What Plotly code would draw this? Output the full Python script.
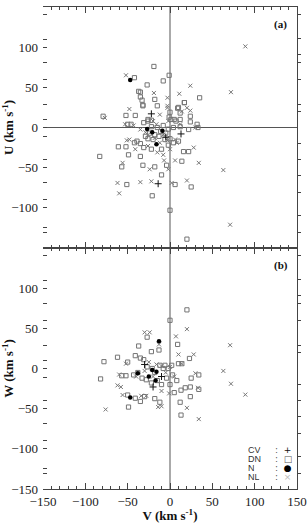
import plotly.graph_objects as go

# ---------------- data ----------------
# panel (a): U vs V
cv_v_a = [13, -14, -22, -5]
cv_u_a = [-8, -70, 17, -12]

dn_v_a = [-19, -42, -8, -1, -27, -35, -32, -18, -15, 35, 17, 10, -41, -79, -26, 1, 24, -50,
          22, 33, -61, -52, -83, -49, -35, -32, -18, -10, -4, 6, -51, 25, -21, 0, 20, 14, 22,
          16, 10, -57, -31, -22, -15, -8, -2, 4, 12, -29, -26, -20, -13, -6, 0, 4, -2, -10,
          -22, -35, -39, -18, -11, -24, -5, -31, -26, -22, -1, 5, 12, 0, 12, 24, 32, 9, 17, 7,
          -52, -46, -37, -35, -33, -32, -42]
dn_u_a = [76, 62, 58, 65, 53, 44, 28, 35, 27, 37, 31, 25, 15, 14, 8, 10, 7, 4,
          -2.5, 0, -24, -24, -36, -34, -36, -47, -49, -59, -47, -71, -71, -74, -85, -103, -139, -42, -30,
          -30, -17, -49, 6, 1, 0, 2.5, -2, 0, 1, -11, -14, -15, -11, -15, -14, -19, -22, -27,
          -27, -20, -17, -9, -5, -7, -7, -25, 10, 9, 13, 10, 10, 19, 18, 14, 4, 24, 31, 8,
          15, 4, 45, 38, 34, 27, -19]

n_v_a = [-47, -27, -21, -16, -9]
n_u_a = [59, -2, -6, -21, -4]

nl_v_a = [89, 72, 34, 63, 71, 20, 24, -52, -19, 11, -48, -12, -3, -53, -35, -48, -41, -56,
          -24, -62, -35, -22, -60, -7, 6, 28, 2, -2, -29, -18, -12, -3, 6, -8, 12, -2, -16,
          -43, -26, 0, -15, 14, 20, -3, -20, 8, -51, -26, -77, 24, -8, -3, 30]
nl_u_a = [101, 44, -44, -53, -121, -66, 52, 65, 43, 42, 23, 16, 37, 4, -2.5, -15, -27, -44,
          -52, -69, -68, -67, -82, -41, -41, -25, -69, -52, -6, -13, -19, -16, -15, -9, 4, 8, 4,
          2.5, -23, -27, -31, 20, 24.5, 24.5, 8, -19, -16, -9, 12, 21, -34, 27, 0]

# panel (b): W vs V
cv_v_b = [-20, -10, -30]
cv_w_b = [-23, -10, 5]

dn_v_b = [20, 0, -27, 9, -13, -37, -22, -62, -78, -41, -35, -31, -50, 23, -57, -52, -43, -82,
          5, 13, 18, 24, 34, 25, -50, -41, -18, -12, -49, 13, 34, 24, 12, -35, -30,
          -27, -21, -12, -6, 2, -2, -8, -33, -28, -15, -4, 3, 8, -22, -10, -38, 0, -18, 10, 14]
dn_w_b = [73, 60, 39, 30, 23, 28, 21, 14, 8.5, 16, 13, 11, 8, 12.5, -9, -9, -8, -13,
          -30, -27, -24, -23, -8, -12, -33, -37, -37.5, -42, -48, -58, -26, -35, -42, -41, -35,
          2, 0, 4, 4, 4, 0, 0, -12, -14, -15, -12, -8, -15, -18, -20, -5, -20, -5, 6, 6]

n_v_b = [-13, -47, -38, -21, -17, -16, -25]
n_w_b = [34, -36, -6, -2, -15, -4, -10]

nl_v_b = [20, -30, -24, 7, 71, 28, 10, 63, 72, 89, 20, 34, -14, -60, -62, -58, 30, 14, 33,
          -10, -1, -56, -34, -28, -10, -76, -13, -52, -25, -16, -10, 0, -30, -20, -5, 5, -40]
nl_w_b = [49, 45, 45, 40, 29, 17.5, 17.5, -3, -19, -32.5, -49, -63, -48, -7.5, -21, -23, -6, 6, -24,
          -28, -31, -33, -34, -34, -47, -51, 30, 6, 8, 5, 3, 2, -3, -10, -5, -10, -10]

x_ticks = [-150, -100, -50, 0, 50, 100, 150]
y_ticks_a = [150, 100, 50, 0, -50, -100]
y_ticks_b = [100, 50, 0, -50, -100, -150]
legend_names = ["CV", "DN", "N", "NL"]
legend_glyphs = ["+", "\u25a1", "\u25cf", "\u00d7"]

# ---------------- styles ----------------
SQ_COL = "#747474"
X_COL = "#777777"
AX_COL = "#444444"
SERIF = "Liberation Serif, Times New Roman, serif"
SANS = "Liberation Sans, Arial, sans-serif"


def add_group(fig, xs, ys, xa, ya, name, sym, col, size, lw):
    fig.add_trace(go.Scatter(
        x=xs, y=ys, mode="markers", name=name, xaxis=xa, yaxis=ya, showlegend=False,
        marker=dict(symbol=sym, size=size, color=col, line=dict(color=col, width=lw)),
    ))


fig = go.Figure()
for xa, ya, data in [
    ("x", "y", [(dn_v_a, dn_u_a), (nl_v_a, nl_u_a), (cv_v_a, cv_u_a), (n_v_a, n_u_a)]),
    ("x2", "y2", [(dn_v_b, dn_w_b), (nl_v_b, nl_w_b), (cv_v_b, cv_w_b), (n_v_b, n_w_b)]),
]:
    add_group(fig, data[0][0], data[0][1], xa, ya, "DN", "square-open", SQ_COL, 4.2, 1)
    add_group(fig, data[1][0], data[1][1], xa, ya, "NL", "x-thin", X_COL, 4, 1)
    add_group(fig, data[2][0], data[2][1], xa, ya, "CV", "cross-thin", "#111111", 5, 1)
    add_group(fig, data[3][0], data[3][1], xa, ya, "N", "circle", "#000000", 4.5, 0)

# empty traces so the right-hand frame axes are drawn
fig.add_trace(go.Scatter(x=[None], y=[None], xaxis="x", yaxis="y3", showlegend=False))
fig.add_trace(go.Scatter(x=[None], y=[None], xaxis="x2", yaxis="y4", showlegend=False))

tickfont = dict(family=SERIF, size=13, color="#222")
xcommon = dict(range=[-150, 150], showline=True, linecolor=AX_COL, linewidth=1,
               ticks="inside", ticklen=6, tickcolor=AX_COL, mirror="ticks",
               minor=dict(dtick=10, ticks="inside", ticklen=3, tickcolor=AX_COL),
               showgrid=False, zeroline=False, tickfont=tickfont, automargin=False)
minor_y = [141, 110, 81, 60, 29, 10, -11, -40, -69, -90, -124, -131]
ycommon = dict(range=[-150, 150], showline=False, ticks="inside", ticklen=4,
               tickcolor=AX_COL, showgrid=False, zeroline=False, tickfont=tickfont,
               ticklabelstandoff=4, automargin=False,
               minor=dict(tickvals=minor_y, ticks="inside", ticklen=4, tickcolor=AX_COL))
right_ticks = [141, 111, 91, 81, 60, 29, 20, -20, -40, -60, -81, -110, -131]
rcommon = dict(range=[-150, 150], side="right", showline=True, linecolor=AX_COL, linewidth=1,
               ticks="outside", ticklen=3, tickcolor=AX_COL, tickvals=right_ticks,
               showticklabels=False, showgrid=False, zeroline=False, automargin=False)

title_font = dict(family=SERIF, size=13, color="#111")
fig.update_layout(
    width=308, height=523,
    margin=dict(l=43, r=11, t=7, b=34, autoexpand=False),
    paper_bgcolor="white", plot_bgcolor="white",
    showlegend=False,
    xaxis=dict(**xcommon, domain=[0, 1], anchor="y", showticklabels=False),
    xaxis2=dict(**xcommon, domain=[0, 1], anchor="y2", matches="x", tickvals=x_ticks,
                title=dict(text="<b>V (km s<sup>-1</sup>)</b>", font=title_font, standoff=4)),
    yaxis=dict(**ycommon, domain=[0.5, 1], anchor="x", tickvals=y_ticks_a,
               title=dict(text="<b>U (km s<sup>-1</sup>)</b>", font=title_font, standoff=2)),
    yaxis2=dict(**ycommon, domain=[0, 0.5], anchor="x2", tickvals=y_ticks_b,
                title=dict(text="<b>W (km s<sup>-1</sup>)</b>", font=title_font, standoff=2)),
    yaxis3=dict(**rcommon, overlaying="y", anchor="x"),
    yaxis4=dict(**rcommon, overlaying="y2", anchor="x2"),
)

# reference lines: V = 0 through both panels, U = 0 in panel (a)
fig.add_shape(type="line", xref="x", yref="paper", x0=0, x1=0, y0=0, y1=1,
              line=dict(color="#aaaaaa", width=2), layer="below")
fig.add_shape(type="line", xref="paper", yref="y", x0=0, x1=1, y0=0, y1=0,
              line=dict(color="#555555", width=1), layer="below")

# panel labels
for txt, yy in [("<b>(a)</b>", 0.964), ("<b>(b)</b>", 0.463)]:
    fig.add_annotation(text=txt, xref="paper", yref="paper", x=0.937, y=yy,
                       xanchor="center", yanchor="middle",
                       showarrow=False, font=dict(family=SERIF, size=11, color="#111"))

# legend (name : symbol)
legend_cols = ["#111111", "#555555", "#000000", "#bbbbbb"]
legend_y = [0.0809, 0.0622, 0.0436, 0.0249]
for i, (nm, gl) in enumerate(zip(legend_names, legend_glyphs)):
    yy = legend_y[i]
    fig.add_annotation(text=nm, xref="paper", yref="paper", x=0.801, y=yy,
                       xanchor="left", yanchor="middle", height=8, showarrow=False,
                       font=dict(family=SANS, size=9, color="#333"))
    fig.add_annotation(text=f":  <span style='color:{legend_cols[i]}'>{gl}</span>",
                       xref="paper", yref="paper", x=0.905, y=yy,
                       xanchor="left", yanchor="middle", height=8, showarrow=False,
                       font=dict(family="DejaVu Sans, sans-serif", size=9, color="#555"))

fig.write_html("out.html",
               config={"displayModeBar": False},
               post_script="document.body.style.margin='0';"
                           "document.body.style.overflow='hidden';")
